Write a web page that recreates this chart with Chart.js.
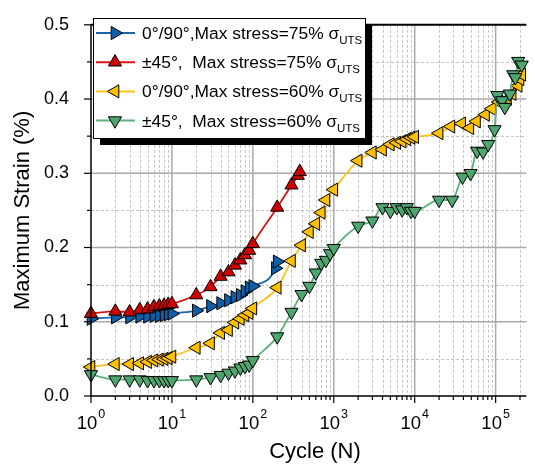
<!DOCTYPE html>
<html>
<head>
<meta charset="utf-8">
<script src="https://cdn.jsdelivr.net/npm/chart.js@4.4.1/dist/chart.umd.min.js"></script>
<style>
	body { margin: 0; background: #fff; }
	#wrap { width: 535px; height: 466px; position: relative; }
</style>
</head>
<body>
<div id="wrap"><canvas id="strain-chart"></canvas></div>
<script>
// 0°/90°, max stress 75% UTS
const cyclesCross75 = [1, 2, 3, 4, 5, 6, 7, 8, 9, 10, 20, 30, 40, 50, 60, 70, 80, 90, 100, 190, 200];
const strainCross75 = [0.104, 0.106, 0.106, 0.107, 0.107, 0.108, 0.108, 0.109, 0.110, 0.111, 0.115, 0.121, 0.125, 0.129, 0.133, 0.136, 0.141, 0.146, 0.148, 0.172, 0.181];

// ±45°, max stress 75% UTS
const cyclesAngle75 = [1, 2, 3, 4, 5, 6, 7, 8, 9, 10, 20, 30, 40, 50, 60, 70, 80, 90, 100, 200, 300, 360, 380];
const strainAngle75 = [0.111, 0.114, 0.113, 0.116, 0.117, 0.120, 0.121, 0.122, 0.123, 0.124, 0.136, 0.147, 0.161, 0.167, 0.176, 0.183, 0.190, 0.196, 0.205, 0.254, 0.284, 0.297, 0.302];

// 0°/90°, max stress 60% UTS
const cyclesCross60 = [1, 2, 3, 4, 5, 6, 7, 8, 9, 10, 20, 30, 40, 50, 60, 70, 80, 90, 100, 200, 300, 400, 500, 600, 700, 800, 1000, 2000, 3000, 4000, 5000, 6000, 7000, 8000, 9000, 10000, 20000, 28000, 38000, 48000, 58000, 75000, 90000, 110000, 140000, 160000, 190000, 200000, 210000];
const strainCross60 = [0.039, 0.043, 0.043, 0.044, 0.046, 0.048, 0.049, 0.050, 0.051, 0.053, 0.065, 0.071, 0.085, 0.089, 0.099, 0.104, 0.109, 0.112, 0.118, 0.146, 0.182, 0.203, 0.221, 0.232, 0.247, 0.264, 0.278, 0.317, 0.328, 0.332, 0.339, 0.341, 0.343, 0.346, 0.348, 0.349, 0.354, 0.363, 0.367, 0.361, 0.370, 0.379, 0.387, 0.396, 0.400, 0.407, 0.418, 0.427, 0.433];

// ±45°, max stress 60% UTS
const cyclesAngle60 = [1, 2, 3, 4, 5, 6, 7, 8, 9, 10, 20, 30, 40, 50, 60, 70, 80, 90, 100, 200, 300, 400, 500, 600, 700, 800, 900, 1000, 2000, 3000, 4000, 5000, 6000, 7000, 8000, 9000, 10000, 20000, 29000, 39000, 49000, 59000, 70000, 81000, 97000, 105000, 120000, 130000, 150000, 165000, 175000, 190000, 210000];
const strainAngle60 = [0.029, 0.022, 0.022, 0.022, 0.021, 0.021, 0.021, 0.021, 0.021, 0.021, 0.022, 0.025, 0.028, 0.031, 0.034, 0.038, 0.040, 0.042, 0.048, 0.080, 0.113, 0.137, 0.148, 0.166, 0.179, 0.183, 0.192, 0.199, 0.229, 0.236, 0.254, 0.249, 0.254, 0.251, 0.254, 0.249, 0.249, 0.264, 0.264, 0.295, 0.300, 0.330, 0.329, 0.339, 0.359, 0.405, 0.398, 0.389, 0.407, 0.433, 0.429, 0.451, 0.446];

const seriesNames = [
	"0°/90°,Max stress=75% σ",
	"±45°,  Max stress=75% σ",
	"0°/90°,Max stress=60% σ",
	"±45°,  Max stress=60% σ"
];
const subscriptText = "UTS";
const xExponents = [0, 1, 2, 3, 4, 5];
const yMajorTicks = [0, 0.1, 0.2, 0.3, 0.4, 0.5];
const yMinorTicks = [0.05, 0.15, 0.25, 0.35, 0.45];

const FONT = "'Liberation Sans', Arial, sans-serif";

const style = [
	{ line: "#1a66ad", fill: "#0f5ea8", rot: 90 },
	{ line: "#d81414", fill: "#cc0000", rot: 0 },
	{ line: "#ffc21a", fill: "#ffc000", rot: 270 },
	{ line: "#5bb07a", fill: "#4ea56d", rot: 180 }
];

function makeSeries(i, xs, ys) {
	const s = style[i];
	return {
		label: seriesNames[i],
		data: xs.map((x, k) => ({ x, y: ys[k] })),
		order: 3 - i,
		borderColor: s.line,
		borderWidth: 1.8,
		pointStyle: "triangle",
		pointRotation: s.rot,
		pointRadius: 7.6,
		pointHoverRadius: 7.6,
		pointBackgroundColor: s.fill,
		pointBorderColor: "#000",
		pointBorderWidth: 1,
		cubicInterpolationMode: "monotone",
		clip: false,
		fill: false
	};
}

function triangle(ctx, cx, cy, r, deg) {
	let rad = deg * Math.PI / 180;
	ctx.beginPath();
	for (let k = 0; k < 3; k++) {
		const px = cx + Math.sin(rad) * r;
		const py = cy - Math.cos(rad) * r;
		if (k === 0) ctx.moveTo(px, py); else ctx.lineTo(px, py);
		rad += Math.PI * 2 / 3;
	}
	ctx.closePath();
	ctx.fill();
	ctx.stroke();
}

const framePlugin = {
	id: "frame",
	beforeDatasetsDraw(chart) {
		const { ctx, chartArea: a, scales: { x, y } } = chart;
		ctx.save();
		// minor grid, dashed
		ctx.strokeStyle = "#c4c4c4";
		ctx.lineWidth = 1;
		ctx.setLineDash([3, 2]);
		xExponents.forEach((e) => {
			for (let m = 2; m <= 9; m++) {
				const v = m * Math.pow(10, e);
				if (v > x.max) break;
				const px = Math.round(x.getPixelForValue(v)) + 0.5;
				ctx.beginPath(); ctx.moveTo(px, a.top); ctx.lineTo(px, a.bottom); ctx.stroke();
			}
		});
		yMinorTicks.forEach((v) => {
			const py = Math.round(y.getPixelForValue(v)) + 0.5;
			ctx.beginPath(); ctx.moveTo(a.left, py); ctx.lineTo(a.right, py); ctx.stroke();
		});
		// major grid, solid
		ctx.setLineDash([]);
		ctx.strokeStyle = "#a9a9a9";
		ctx.lineWidth = 1.5;
		xExponents.slice(1).forEach((e) => {
			const px = x.getPixelForValue(Math.pow(10, e));
			ctx.beginPath(); ctx.moveTo(px, a.top); ctx.lineTo(px, a.bottom); ctx.stroke();
		});
		yMajorTicks.slice(1, -1).forEach((v) => {
			const py = y.getPixelForValue(v);
			ctx.beginPath(); ctx.moveTo(a.left, py); ctx.lineTo(a.right, py); ctx.stroke();
		});
		ctx.restore();
	},
	afterDatasetsDraw(chart) {
		const { ctx, chartArea: a, scales: { x, y } } = chart;
		ctx.save();
		// axes
		ctx.strokeStyle = "#000";
		ctx.lineWidth = 1.5;
		ctx.beginPath();
		ctx.moveTo(a.left, a.top); ctx.lineTo(a.left, a.bottom); ctx.lineTo(a.right, a.bottom);
		ctx.stroke();
		ctx.lineWidth = 2;
		ctx.beginPath(); ctx.moveTo(a.left, a.top); ctx.lineTo(a.right, a.top); ctx.stroke();

		// tick marks
		ctx.lineWidth = 1.2;
		yMajorTicks.forEach((v) => {
			const py = y.getPixelForValue(v);
			ctx.beginPath(); ctx.moveTo(a.left - 7, py); ctx.lineTo(a.left, py); ctx.stroke();
		});
		yMinorTicks.forEach((v) => {
			const py = y.getPixelForValue(v);
			ctx.beginPath(); ctx.moveTo(a.left - 4, py); ctx.lineTo(a.left, py); ctx.stroke();
		});
		xExponents.forEach((e) => {
			for (let m = 1; m <= 9; m++) {
				const v = m * Math.pow(10, e);
				if (v > x.max) break;
				const px = x.getPixelForValue(v);
				ctx.beginPath(); ctx.moveTo(px, a.bottom); ctx.lineTo(px, a.bottom + (m === 1 ? 7 : 4)); ctx.stroke();
			}
		});

		// x tick labels 10^n
		ctx.fillStyle = "#000";
		ctx.textBaseline = "alphabetic";
		ctx.textAlign = "left";
		xExponents.forEach((e) => {
			const px = x.getPixelForValue(Math.pow(10, e));
			ctx.font = `18.5px ${FONT}`;
			const w1 = ctx.measureText("10").width;
			ctx.font = `12.5px ${FONT}`;
			const w2 = ctx.measureText(String(e)).width;
			const start = px - (w1 + w2 + 1) / 2;
			ctx.font = `18.5px ${FONT}`;
			ctx.fillText("10", start, a.bottom + 33);
			ctx.font = `12.5px ${FONT}`;
			ctx.fillText(String(e), start + w1 + 1, a.bottom + 22);
		});

		// axis titles
		ctx.font = `22px ${FONT}`;
		ctx.textAlign = "center";
		ctx.textBaseline = "middle";
		ctx.fillText("Cycle (N)", 315, 452);
		ctx.save();
		ctx.translate(23, (a.top + a.bottom) / 2);
		ctx.rotate(-Math.PI / 2);
		ctx.fillText("Maximum Strain (%)", 0, 0);
		ctx.restore();

		// legend box with drop shadow
		const bx = 93, by = 18, bw = 272, bh = 120;
		ctx.fillStyle = "#000";
		ctx.fillRect(bx + 7, by + 7, bw, bh);
		ctx.fillStyle = "#fff";
		ctx.fillRect(bx, by, bw, bh);
		ctx.strokeStyle = "#000";
		ctx.lineWidth = 1;
		ctx.strokeRect(bx + 0.5, by + 0.5, bw, bh);

		ctx.textAlign = "left";
		ctx.textBaseline = "alphabetic";
		seriesNames.forEach((name, i) => {
			const base = 39 + i * 29.2;
			const cy = base - 6;
			ctx.strokeStyle = style[i].line;
			ctx.lineWidth = 2;
			ctx.beginPath(); ctx.moveTo(96, cy); ctx.lineTo(135, cy); ctx.stroke();
			ctx.fillStyle = style[i].fill;
			ctx.strokeStyle = "#000";
			ctx.lineWidth = 1;
			triangle(ctx, 115, cy, 7.6, style[i].rot);
			ctx.fillStyle = "#000";
			ctx.font = `17.4px ${FONT}`;
			ctx.fillText(name, 142, base);
			const w = ctx.measureText(name).width;
			ctx.font = `11.5px ${FONT}`;
			ctx.fillText(subscriptText, 142 + w, base + 5);
		});
		ctx.restore();
	}
};

const chart = new Chart(document.getElementById("strain-chart"), {
	type: "line",
	data: {
		datasets: [
			makeSeries(0, cyclesCross75, strainCross75),
			makeSeries(1, cyclesAngle75, strainAngle75),
			makeSeries(2, cyclesCross60, strainCross60),
			makeSeries(3, cyclesAngle60, strainAngle60)
		]
	},
	options: {
		responsive: true,
		maintainAspectRatio: false,
		animation: false,
		layout: { padding: { top: 16, right: 0, bottom: 0, left: 0 } },
		plugins: { legend: { display: false }, tooltip: { enabled: false } },
		scales: {
			x: {
				type: "logarithmic",
				min: 1,
				max: 240000,
				ticks: { display: false },
				grid: { display: false },
				border: { display: false },
				afterFit(scale) { scale.height = 70; }
			},
			y: {
				type: "linear",
				min: 0,
				max: 0.5,
				ticks: {
					stepSize: 0.1,
					padding: 14,
					color: "#000",
					font: { family: FONT, size: 18 },
					callback: (v) => v.toFixed(1)
				},
				grid: { display: false },
				border: { display: false },
				afterFit(scale) { scale.width = 91; }
			}
		}
	},
	plugins: [framePlugin]
});
</script>
</body>
</html>
